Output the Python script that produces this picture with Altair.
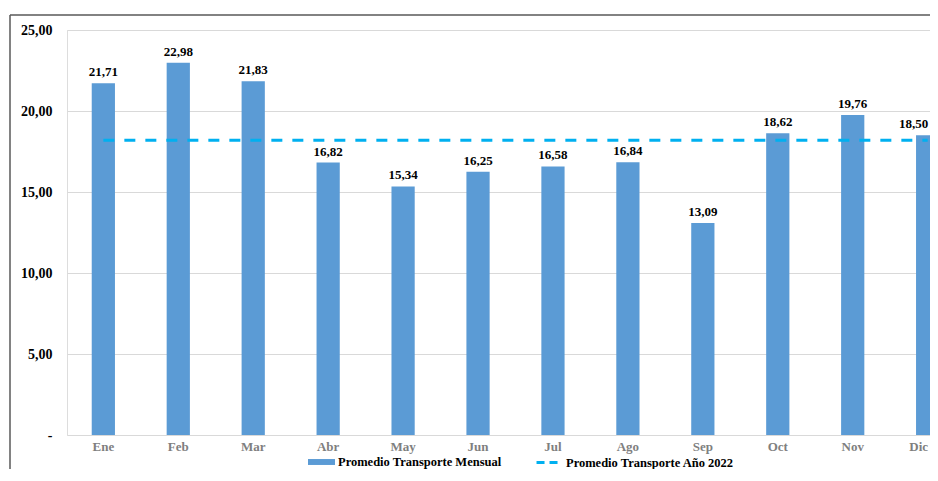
import altair as alt
import pandas as pd

# ---- data ----
months = ["Ene", "Feb", "Mar", "Abr", "May", "Jun", "Jul", "Ago", "Sep", "Oct", "Nov", "Dic"]
values = [21.71, 22.98, 21.83, 16.82, 15.34, 16.25, 16.58, 16.84, 13.09, 18.62, 19.76, 18.50]
series_bar = "Promedio Transporte Mensual"
series_line = "Promedio Transporte Año 2022"
y_ticks = [0, 5, 10, 15, 20, 25]

avg = sum(values) / len(values)

df = pd.DataFrame({"mes": months, "valor": values, "serie": series_bar})
df_avg = pd.DataFrame({"mes": months, "valor": [avg] * len(months), "serie": series_line})
frame_df = pd.DataFrame({"k": [0]})

FONT = "Liberation Serif"
BAR_C = "#5b9bd5"
LINE_C = "#00b0f0"
last = months[-1]

x_enc = alt.X(
    "mes:N",
    sort=months,
    scale=alt.Scale(range=[0, 897], paddingInner=0.69, paddingOuter=0.33),
    axis=alt.Axis(
        title=None, labelAngle=0, labelColor="#7f7f7f", labelFont=FONT,
        labelFontSize=13, labelFontWeight="bold", domain=False, ticks=False,
        labelPadding=5, grid=False,
        labelOffset={"condition": {"test": f"datum.value === '{last}'", "value": -9}, "value": 0},
    ),
)
y_enc = alt.Y(
    "valor:Q",
    scale=alt.Scale(domain=[0, 25], nice=False, zero=True),
    axis=alt.Axis(
        title=None, values=y_ticks,
        labelExpr="datum.value == 0 ? '-\u2002\u2009' : replace(format(datum.value, '.2f'), '.', ',')",
        labelFont=FONT, labelFontSize=14, labelFontWeight="bold", labelColor="black",
        domain=False, ticks=False, labelPadding=15, grid=True,
        gridColor="#d9d9d9", gridWidth=1,
    ),
)

legend_common = dict(
    title=None, orient="none", direction="horizontal",
    labelFont=FONT, labelFontSize=12.5, labelFontWeight="bold", labelColor="black",
    labelOffset=3, padding=0, labelLimit=0, symbolSize=729,
)
legend_bar = alt.Legend(
    legendX=241, legendY=418.5, symbolType="M-1,-0.22H1V0.22H-1Z",
    symbolStrokeWidth=0, symbolOpacity=1, **legend_common,
)
legend_line = alt.Legend(
    legendX=466, legendY=417.5, symbolType="M-0.85,0H0.85",
    symbolStrokeWidth=3, symbolDash=[8, 5], symbolOpacity=1, **legend_common,
)

bars = alt.Chart(df).mark_bar().encode(
    x=x_enc, y=y_enc,
    fill=alt.Fill("serie:N", scale=alt.Scale(domain=[series_bar], range=[BAR_C]), legend=legend_bar),
)

text_style = dict(baseline="alphabetic", font=FONT, fontSize=13, fontWeight="bold", color="black")
label_base = alt.Chart(df).transform_calculate(
    etiqueta="replace(format(datum.valor, '.2f'), '.', ',')"
)
labels = label_base.transform_filter(f"datum.mes !== '{last}'").mark_text(dy=-7, **text_style).encode(
    x=alt.X("mes:N", sort=months), y="valor:Q", text="etiqueta:N"
)
labels_last = label_base.transform_filter(f"datum.mes === '{last}'").mark_text(dy=-7, dx=-14, **text_style).encode(
    x=alt.X("mes:N", sort=months), y="valor:Q", text="etiqueta:N"
)

line = alt.Chart(df_avg).mark_line(strokeWidth=3, strokeDash=[11, 10]).encode(
    x=alt.X("mes:N", sort=months), y="valor:Q",
    stroke=alt.Stroke("serie:N", scale=alt.Scale(domain=[series_line], range=[LINE_C]), legend=legend_line),
)

frame_top = alt.Chart(frame_df).mark_rule(color="#595959", strokeWidth=1.5).encode(
    x=alt.value(-57), x2=alt.value(900), y=alt.value(-15)
)
frame_left = alt.Chart(frame_df).mark_rule(color="#595959", strokeWidth=1.5).encode(
    x=alt.value(-57), y=alt.value(-15), y2=alt.value(460)
)

chart = alt.layer(frame_top, frame_left, bars, line, labels, labels_last).properties(
    width=863, height=405,
    autosize=alt.AutoSizeParams(type="none"),
    padding={"left": 59, "top": 22, "right": 0, "bottom": 34},
).configure_view(stroke=None).configure(background="white")

chart.save("out.html", embed_options={"renderer": "svg", "actions": False})
